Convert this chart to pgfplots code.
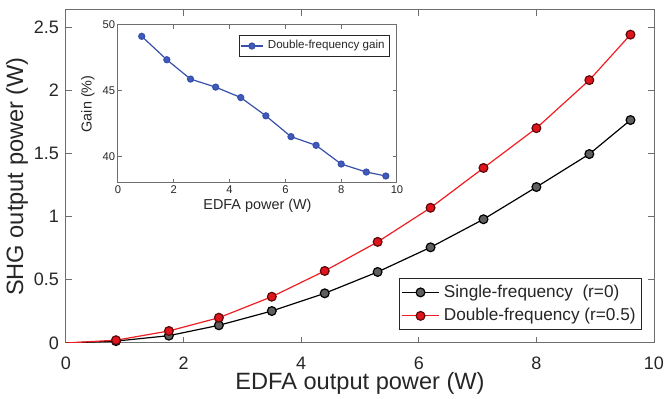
\documentclass[border=0pt]{standalone}
\usepackage{pgfplots}
\pgfplotsset{compat=1.18}
\usepackage{fontspec}
\setmainfont{Liberation Sans}
\definecolor{txtgray}{RGB}{38,38,38}
\definecolor{axgray}{RGB}{110,110,110}
\definecolor{lred}{RGB}{240,30,35}
\definecolor{mred}{RGB}{225,20,30}
\definecolor{mredge}{RGB}{90,10,10}
\definecolor{mgray}{RGB}{95,95,95}
\definecolor{lblue}{RGB}{55,80,170}
\definecolor{mblue}{RGB}{65,90,190}

\begin{document}
\begin{tikzpicture}
% main axis
\begin{axis}[
  at={(0,0)}, anchor=south west,
  scale only axis,
  width=294pt, height=166.5pt,
  xmin=0, xmax=10, ymin=0, ymax=2.635,
  xtick={0,2,4,6,8,10},
  ytick={0,0.5,1,1.5,2,2.5},
  tick align=inside,
  major tick length=3pt,
  axis line style={draw=axgray, line width=0.5pt},
  tick style={draw=axgray, line width=0.5pt},
  /pgf/number format/assume math mode=true,
  tick label style={font=\fontsize{9}{10}\selectfont, text=txtgray},
  xticklabel style={yshift=-3.5pt},
  every axis x label/.style={at={(axis description cs:0.5,-0.12)}, anchor=center},
  every axis y label/.style={at={(axis description cs:-0.0833,0.5)}, rotate=90, anchor=center},
  label style={font=\fontsize{11.8}{13}\selectfont, text=txtgray},
  xlabel={EDFA output power (W)},
  ylabel={SHG output power (W)},
  legend cell align=left,
  legend style={at={(0.9796,0.039)}, anchor=south east, draw=txtgray,
    font=\fontsize{8.6}{10}\selectfont, text=txtgray, inner sep=1pt,
    row sep=0pt},
  legend image code/.code={\draw[mark repeat=2,mark phase=2] plot coordinates {(0cm,0cm) (0.33cm,0cm) (0.66cm,0cm)};},
]
\addplot[black, line width=0.6pt, forget plot] coordinates {(0,0) (0.85,0.015)};
\addplot[lred, line width=0.6pt, forget plot] coordinates {(0,0) (0.85,0.022)};
\addplot[black, line width=0.6pt, mark=*, mark size=2.2pt,
  mark options={fill=mgray, draw=black}] coordinates {
  (0.85,0.015) (1.75,0.058) (2.6,0.140) (3.5,0.253) (4.4,0.393) (5.3,0.562)
  (6.2,0.757) (7.1,0.979) (8.0,1.234) (8.9,1.495) (9.6,1.764)};
\addlegendentry{Single-frequency\ \ (r=0)}
\addplot[lred, line width=0.6pt, mark=*, mark size=2.2pt,
  mark options={fill=mred, draw=mredge}] coordinates {
  (0.85,0.022) (1.75,0.095) (2.6,0.200) (3.5,0.366) (4.4,0.570) (5.3,0.800)
  (6.2,1.070) (7.1,1.385) (8.0,1.700) (8.9,2.080) (9.6,2.440)};
\addlegendentry{Double-frequency (r=0.5)}
\end{axis}
% inset
\begin{axis}[
  at={(26pt,80pt)}, anchor=south west,
  scale only axis,
  width=139.5pt, height=79pt,
  xmin=0, xmax=10, ymin=38, ymax=50,
  xtick={0,2,4,6,8,10},
  ytick={40,45,50},
  axis background/.style={fill=white},
  tick align=inside,
  major tick length=2pt,
  axis line style={draw=axgray, line width=0.5pt},
  tick style={draw=axgray, line width=0.5pt},
  /pgf/number format/assume math mode=true,
  tick label style={font=\fontsize{5.6}{6}\selectfont, text=txtgray, inner sep=1.2pt},
  every axis x label/.style={at={(axis description cs:0.5,-0.145)}, anchor=center},
  every axis y label/.style={at={(axis description cs:-0.1075,0.5)}, rotate=90, anchor=center},
  label style={font=\fontsize{7.2}{8}\selectfont, text=txtgray},
  xlabel={EDFA power (W)},
  ylabel={Gain (\%)},
  legend cell align=left,
  legend style={at={(0.975,0.937)}, anchor=north east, draw=txtgray,
    font=\fontsize{5.8}{7}\selectfont, text=txtgray, inner sep=0.5pt},
  legend image code/.code={\draw[mark repeat=2,mark phase=2] plot coordinates {(0cm,0cm) (0.2cm,0cm) (0.4cm,0cm)};},
]
\addplot[lblue, line width=0.6pt, mark=*, mark size=1.5pt,
  mark options={fill=mblue, draw=lblue}] coordinates {
  (0.85,49.14) (1.75,47.36) (2.6,45.89) (3.5,45.28) (4.4,44.49) (5.3,43.10)
  (6.2,41.52) (7.1,40.86) (8.0,39.44) (8.9,38.83) (9.6,38.53)};
\addlegendentry{Double-frequency gain}
\end{axis}
\pgfresetboundingbox
\path[use as bounding box] (-33pt,-28pt) rectangle (299pt,171.5pt);
\end{tikzpicture}
\end{document}
